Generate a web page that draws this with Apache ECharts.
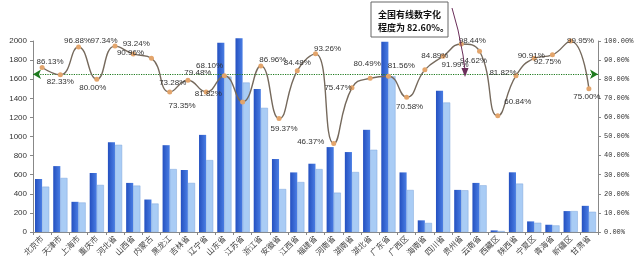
<!DOCTYPE html>
<html>
<head>
<meta charset="utf-8">
<script src="https://cdn.jsdelivr.net/npm/echarts@6/dist/echarts.min.js"></script>
<style>
  html, body { margin: 0; padding: 0; background: #fff; }
  #chart { width: 640px; height: 265px; }
</style>
</head>
<body>
<div id="chart"></div>
<script>
// 省份
var provinces = ['北京市', '天津市', '上海市', '重庆市', '河北省', '山西省', '内蒙古', '黑龙江', '吉林省', '辽宁省',
    '山东省', '江苏省', '浙江省', '安徽省', '江西省', '福建省', '河南省', '湖南省', '湖北省', '广东省',
    '广西区', '海南省', '四川省', '贵州省', '云南省', '西藏区', '陕西省', '宁夏区', '青海省', '新疆区', '甘肃省'];
// 有线电视用户（万户）
var cableUsers = [555, 690, 316, 618, 940, 514, 340, 909, 649, 1017,
    1982, 2030, 1497, 764, 624, 715, 889, 837, 1070, 1993,
    624, 122, 1480, 441, 514, 17, 625, 111, 76, 219, 274];
// 有线数字电视用户（万户）
var digitalUsers = [475, 566, 309, 493, 913, 486, 298, 659, 514, 753,
    1627, 1565, 1300, 450, 523, 659, 412, 628, 861, 1632,
    440, 95, 1356, 437, 489, 10, 507, 97, 69, 219, 212];
// 数字化程度（%）
var digitalRate = [86.13, 82.33, 96.88, 80.00, 97.34, 93.24, 90.96, 73.28, 79.48, 73.35,
    81.82, 68.10, 86.96, 59.37, 84.48, 93.26, 46.37, 75.47, 80.49, 81.56,
    70.58, 84.89, 91.99, 98.44, 94.62, 60.84, 81.82, 90.91, 92.75, 99.95, 75.00];
var nationalRate = 82.6;

// 数据标签的偏移（样式）
var labelOffsets = [[8, -6], [0, 7], [-1, -6], [-4, 9], [-11, -5], [3, -10], [-21, -5], [3, -9], [10, -7], [-24, 14],
    [-16, 18], [-33, -36], [12, -6], [5, 10], [0, -8], [12, -5], [-23, -2], [-14, 0], [-3, -14], [13, -10],
    [3, 10], [10, -14], [12, 8], [11, -3], [-6, 10], [20, -14], [-13, -3], [-3, -3], [-5, 7], [10, 0], [-2, 8]];

var myChart = echarts.init(document.getElementById('chart'));

var rateData = digitalRate.map(function (v, i) {
    return {
        value: v,
        label: { offset: labelOffsets[i] }
    };
});

var option = {
    animation: false,
    backgroundColor: '#fff',
    grid: { left: 33, right: 42, top: 41, bottom: 33 },
    xAxis: {
        type: 'category',
        data: provinces,
        axisLine: { lineStyle: { color: '#888' } },
        axisTick: { show: true, length: 3, lineStyle: { color: '#888' } },
        axisLabel: {
            rotate: 45, interval: 0, margin: 5,
            fontSize: 8, color: '#444', fontFamily: 'Noto Sans CJK SC'
        }
    },
    yAxis: [
        {
            type: 'value', min: 0, max: 2000, interval: 200,
            axisLine: { show: true, lineStyle: { color: '#888' } },
            axisTick: { show: true, length: 3, lineStyle: { color: '#888' } },
            splitLine: { show: false },
            axisLabel: {
                fontSize: 8, color: '#333', margin: 6, fontFamily: 'Liberation Sans',
                formatter: function (v) { return String(v); }
            }
        },
        {
            type: 'value', min: 0, max: 100, interval: 10,
            axisLine: { show: true, lineStyle: { color: '#888' } },
            axisTick: { show: true, length: 3, lineStyle: { color: '#888' } },
            splitLine: { show: false },
            axisLabel: {
                fontSize: 7, color: '#333', margin: 6, fontFamily: 'Liberation Mono',
                formatter: function (v) { return v.toFixed(2) + '%'; }
            }
        }
    ],
    series: [
        {
            name: '有线电视用户',
            type: 'bar',
            data: cableUsers,
            clip: false,
            barGap: '0%',
            barCategoryGap: '22%',
            itemStyle: {
                color: new echarts.graphic.LinearGradient(0, 0, 1, 0, [
                    { offset: 0, color: '#2450c0' },
                    { offset: 1, color: '#4a7ee4' }
                ])
            }
        },
        {
            name: '有线数字电视用户',
            type: 'bar',
            data: digitalUsers,
            itemStyle: { color: '#a9ccf5', borderColor: '#7fa6dc', borderWidth: 0.5 }
        },
        {
            name: '数字化程度',
            type: 'line',
            yAxisIndex: 1,
            smooth: 0.5,
            data: rateData,
            symbol: 'circle',
            symbolSize: 5,
            lineStyle: { color: '#75695c', width: 1.4 },
            itemStyle: { color: '#e3a56c' },
            z: 5,
            label: {
                show: true, position: 'inside',
                fontSize: 8, color: '#333', fontFamily: 'Liberation Sans',
                formatter: function (p) { return p.value.toFixed(2) + '%'; }
            },
            markLine: {
                silent: true,
                symbol: ['arrow', 'arrow'],
                symbolSize: [7, 8],
                label: { show: false },
                lineStyle: { color: '#1f7a1f', type: 'dotted', width: 1.2 },
                data: [{ yAxis: nationalRate }]
            }
        }
    ],
    graphic: [
        {
            type: 'rect',
            shape: { x: 371, y: 2, width: 77, height: 35 },
            style: { fill: '#fff', stroke: '#666', lineWidth: 1 },
            z: 10
        },
        {
            type: 'text',
            left: 378, top: 8,
            style: {
                text: '全国有线数字化\n程度为 82.60%。',
                font: 'bold 9px "Noto Sans CJK SC"',
                lineHeight: 13,
                fill: '#111'
            },
            z: 11
        },
        {
            type: 'polyline',
            shape: { points: [[452, 8], [458, 30], [463, 55], [465, 70]] },
            style: { stroke: '#6b2f5a', lineWidth: 1, fill: null },
            z: 10
        },
        {
            type: 'polygon',
            shape: { points: [[461.5, 68], [468.5, 68], [465, 77]] },
            style: { fill: '#6b2f5a' },
            z: 10
        }
    ]
};
myChart.setOption(option);
</script>
</body>
</html>
